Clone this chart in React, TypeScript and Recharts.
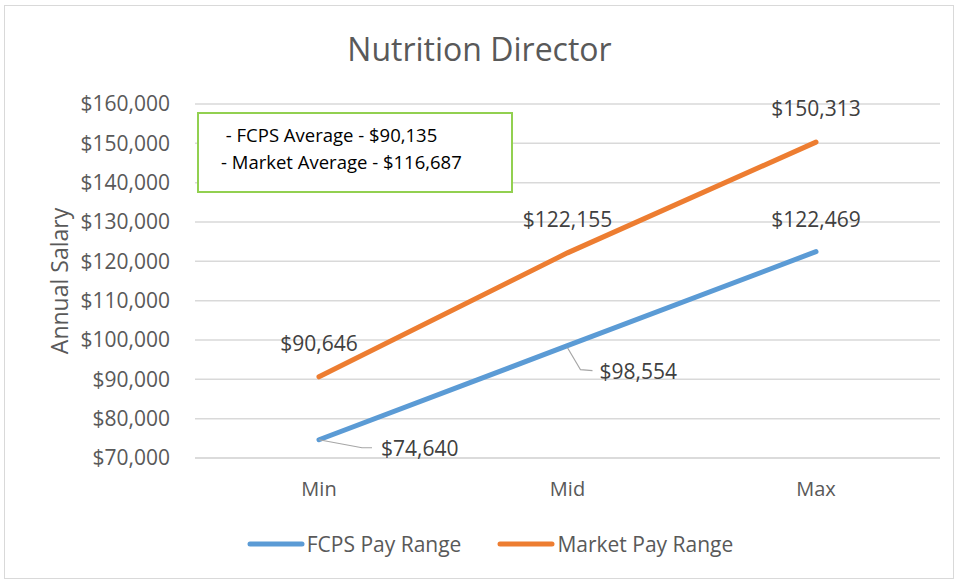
import React from 'react';
import { LineChart, Line, XAxis, YAxis, CartesianGrid, Legend, LabelList } from 'recharts';

const categories = ['Min', 'Mid', 'Max'];
const fcpsValues = [74640, 98554, 122469];
const marketValues = [90646, 122155, 150313];
const yTicks = [70000, 80000, 90000, 100000, 110000, 120000, 130000, 140000, 150000, 160000];
const seriesNames = ['FCPS Pay Range', 'Market Pay Range'];
const noteLines = [' - FCPS Average - $90,135', '- Market Average - $116,687'];

const data = categories.map((c, i) => ({ name: c, fcps: fcpsValues[i], market: marketValues[i] }));

const FONT = '"Open Sans", sans-serif';
const BLUE = '#5b9bd5';
const ORANGE = '#ed7d31';
const fmt = (v: number) => '$' + v.toLocaleString('en-US');

const MarketLabel = (props: any) => {
  const { x, y, value } = props;
  return (
    <text x={x} y={y - 34} textAnchor="middle" dominantBaseline="central" fill="#404040" fontSize={21} fontFamily={FONT}>
      {fmt(value)}
    </text>
  );
};

const FcpsLabel = (props: any) => {
  const { x, y, value, index } = props;
  if (index === 0) {
    return (
      <g>
        <polyline points={`${x},${y} ${x + 43},${y + 8} ${x + 53},${y + 8}`} fill="none" stroke="#a6a6a6" strokeWidth={1.2} />
        <text x={x + 62} y={y + 8} textAnchor="start" dominantBaseline="central" fill="#404040" fontSize={21} fontFamily={FONT}>
          {fmt(value)}
        </text>
      </g>
    );
  }
  if (index === 1) {
    return (
      <g>
        <polyline points={`${x},${y + 2} ${x + 13},${y + 24} ${x + 25},${y + 25}`} fill="none" stroke="#a6a6a6" strokeWidth={1.2} />
        <text x={x + 32} y={y + 25} textAnchor="start" dominantBaseline="central" fill="#404040" fontSize={21} fontFamily={FONT}>
          {fmt(value)}
        </text>
      </g>
    );
  }
  return (
    <text x={x} y={y - 33} textAnchor="middle" dominantBaseline="central" fill="#404040" fontSize={21} fontFamily={FONT}>
      {fmt(value)}
    </text>
  );
};

const LegendContent = () => {
  const colors = [BLUE, ORANGE];
  return (
    <div style={{ display: 'flex', justifyContent: 'center', alignItems: 'center', gap: 36, fontFamily: FONT, fontSize: 21, color: '#595959', paddingLeft: 40 }}>
      {seriesNames.map((n, i) => (
        <div key={n} style={{ display: 'flex', alignItems: 'center' }}>
          <svg width={58} height={10} style={{ marginRight: 2 }}>
            <line x1={3} y1={5} x2={55} y2={5} stroke={colors[i]} strokeWidth={5} strokeLinecap="round" />
          </svg>
          <span>{n}</span>
        </div>
      ))}
    </div>
  );
};

export default function App() {
  return (
    <div style={{ position: 'absolute', left: 0, top: 0, width: 959, height: 582, background: '#fff' }}>
      <div style={{ position: 'absolute', left: 4, top: 5, width: 950, height: 574, border: '1px solid #d9d9d9', boxSizing: 'border-box' }} />
      <div style={{ position: 'absolute', left: 0, top: 27, width: 959, textAlign: 'center', fontFamily: FONT, fontSize: 32, color: '#595959', lineHeight: '44px' }}>
        Nutrition Director
      </div>
      <div style={{ position: 'absolute', left: 0, top: 0 }}>
        <LineChart width={959} height={582} data={data} margin={{ top: 104, right: 19, bottom: 66, left: 0 }}>
          <CartesianGrid vertical={false} stroke="#d9d9d9" strokeWidth={1.5} />
          <XAxis
            dataKey="name"
            padding={{ left: 124, right: 124 }}
            axisLine={{ stroke: '#d9d9d9', strokeWidth: 1.5 }}
            tickLine={false}
            tick={{ fill: '#595959', fontSize: 20, fontFamily: FONT }}
            tickMargin={18}
          />
          <YAxis
            domain={[70000, 160000]}
            ticks={yTicks}
            width={195}
            axisLine={false}
            tickLine={false}
            tickMargin={19}
            tickFormatter={fmt}
            tick={{ fill: '#595959', fontSize: 21, fontFamily: FONT }}
            label={{ value: 'Annual Salary', angle: -90, position: 'insideLeft', offset: 60, style: { textAnchor: 'middle', fill: '#595959', fontSize: 23, fontFamily: FONT } }}
          />
          <Legend verticalAlign="bottom" content={<LegendContent />} wrapperStyle={{ bottom: 24 }} />
          <Line dataKey="fcps" name={seriesNames[0]} stroke={BLUE} strokeWidth={5} strokeLinecap="round" dot={false} activeDot={false} isAnimationActive={false}>
            <LabelList dataKey="fcps" content={<FcpsLabel />} />
          </Line>
          <Line dataKey="market" name={seriesNames[1]} stroke={ORANGE} strokeWidth={5} strokeLinecap="round" dot={false} activeDot={false} isAnimationActive={false}>
            <LabelList dataKey="market" content={<MarketLabel />} />
          </Line>
        </LineChart>
      </div>
      <div style={{ position: 'absolute', left: 197, top: 112, width: 316, height: 81, border: '2px solid #92d050', boxSizing: 'border-box', background: '#fff', fontFamily: FONT, fontSize: 18.5, color: '#000', paddingLeft: 22, paddingTop: 7, lineHeight: '27px', whiteSpace: 'pre' }}>
        {noteLines.map((l) => (
          <div key={l}>{l}</div>
        ))}
      </div>
    </div>
  );
}
